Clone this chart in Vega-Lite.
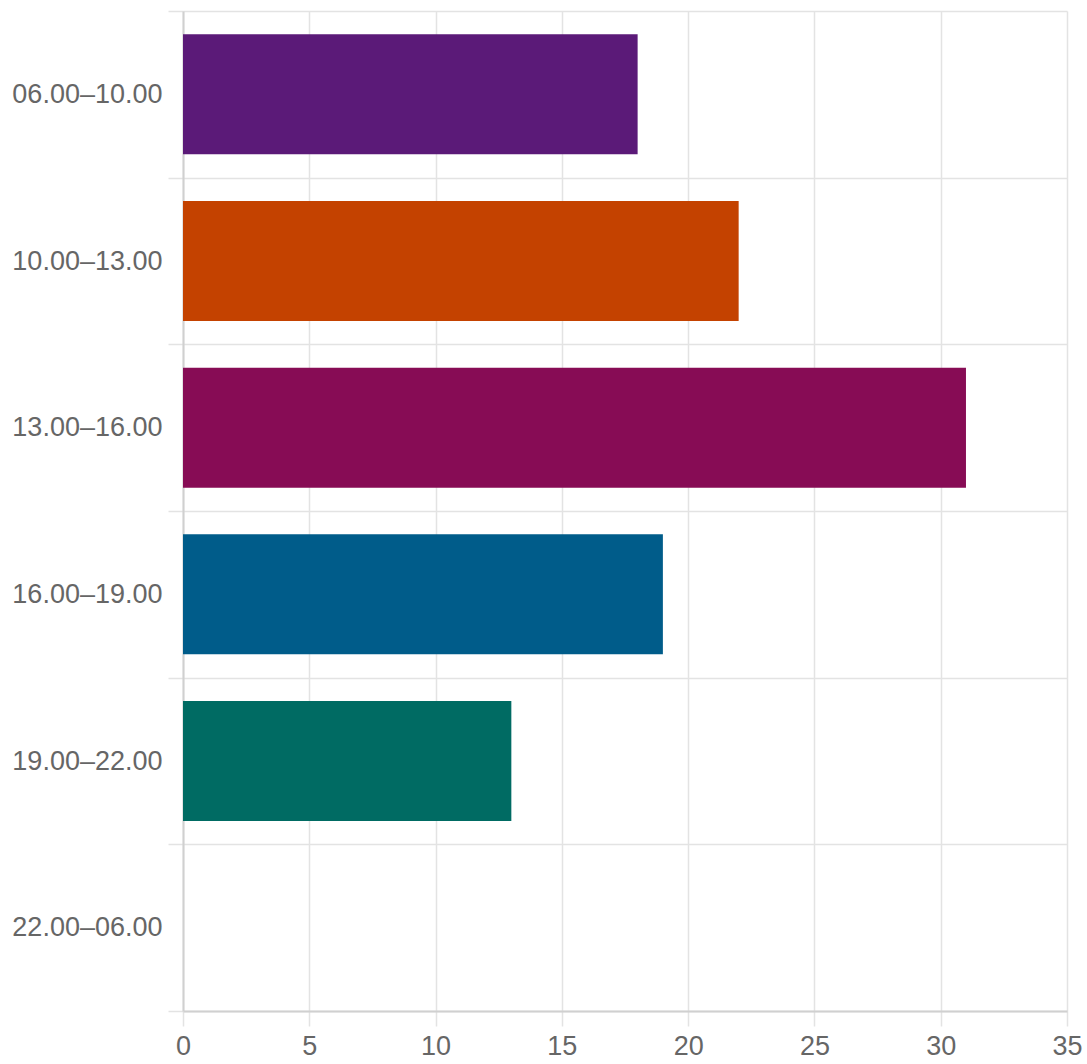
{
  "$schema": "https://vega.github.io/schema/vega-lite/v6.json",
  "autosize": {"type": "none"},
  "padding": {"left": 183, "top": 11, "right": 20, "bottom": 53},
  "width": 884,
  "height": 1000,
  "background": "white",
  "config": {
    "view": {"stroke": null},
    "font": "Liberation Sans",
    "axis": {
      "labelFont": "Liberation Sans",
      "labelColor": "#666666",
      "labelFontSize": 27,
      "gridColor": "#e3e3e3",
      "gridWidth": 1.5,
      "tickColor": "#e3e3e3",
      "tickWidth": 1.5,
      "tickSize": 15,
      "domainColor": "#d0d0d0",
      "domainWidth": 2,
      "title": null
    }
  },
  "data": {
    "values": [
      {"time": "06.00–10.00", "count": 18},
      {"time": "10.00–13.00", "count": 22},
      {"time": "13.00–16.00", "count": 31},
      {"time": "16.00–19.00", "count": 19},
      {"time": "19.00–22.00", "count": 13},
      {"time": "22.00–06.00", "count": 0}
    ]
  },
  "mark": {"type": "bar", "height": {"band": 0.72}},
  "encoding": {
    "y": {
      "field": "time",
      "type": "nominal",
      "sort": null,
      "scale": {"paddingInner": 0, "paddingOuter": 0},
      "axis": {"tickBand": "extent", "grid": true, "labelPadding": 6, "domain": true}
    },
    "x": {
      "field": "count",
      "type": "quantitative",
      "scale": {"domain": [0, 35], "nice": false},
      "axis": {"values": [0, 5, 10, 15, 20, 25, 30, 35], "grid": true, "labelPadding": 7, "labelFlush": false}
    },
    "color": {
      "field": "time",
      "type": "nominal",
      "sort": null,
      "legend": null,
      "scale": {
        "domain": ["06.00–10.00", "10.00–13.00", "13.00–16.00", "16.00–19.00", "19.00–22.00", "22.00–06.00"],
        "range": ["#5b1a78", "#c44200", "#870c55", "#005c8a", "#006b63", "#888888"]
      }
    }
  }
}
